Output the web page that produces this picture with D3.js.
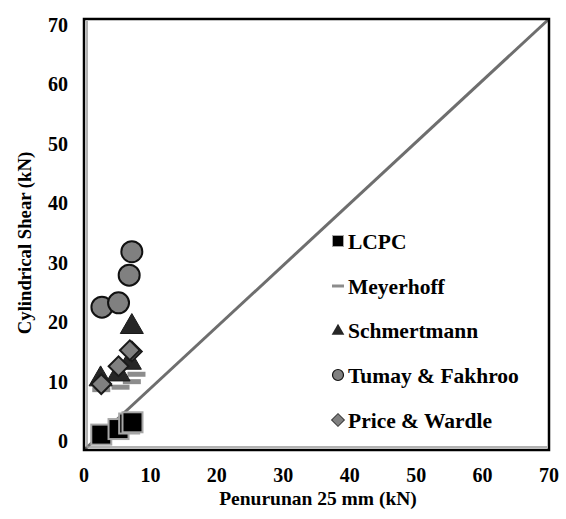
<!DOCTYPE html>
<html><head><meta charset="utf-8">
<script src="https://cdn.jsdelivr.net/npm/d3@7"></script>
<style>body{margin:0;background:#fff}svg{display:block}text{font-family:"Liberation Serif","Times New Roman",serif;font-weight:bold}</style>
</head><body><svg id="c" width="566" height="519"></svg>
<script>
const xTicks = [0,10,20,30,40,50,60,70];
const yTicks = [0,10,20,30,40,50,60,70];
const seriesNames = ["LCPC","Meyerhoff","Schmertmann","Tumay & Fakhroo","Price & Wardle"];
const lcpc = [[2.6,2.5],[5.2,3.4],[6.8,4.3],[7.3,4.5]];
const meyerhoff = [[2.6,9.8],[5.5,10.2],[7.2,11.1],[7.9,12.3]];
const schmertmann = [[2.5,11.5],[5.2,12.3],[6.9,14.2],[7.2,20.0]];
const tumay = [[2.7,23.2],[5.2,23.9],[6.8,28.4],[7.2,32.2]];
const price = [[2.6,10.7],[5.2,13.6],[7.2,16.0],[6.9,16.2]];
const diagonal = [[0,0],[70,70]];

const svg = d3.select("#c");
const x = d3.scaleLinear().domain([0,70]).range([84,549]);
const y = d3.scaleLinear().domain([0,70]).range([450,19]);
const yLab = d3.scaleLinear().domain([0,70]).range([441,25]);

// diagonal
svg.append("line").attr("x1",x(diagonal[0][0])).attr("y1",y(diagonal[0][1]))
  .attr("x2",x(diagonal[1][0])).attr("y2",y(diagonal[1][1]))
  .attr("stroke","#6e6e6e").attr("stroke-width",3);

// frame
svg.append("rect").attr("x",x(0)).attr("y",y(70)).attr("width",x(70)-x(0)).attr("height",y(0)-y(70))
  .attr("fill","none").attr("stroke","#000").attr("stroke-width",2.5);
svg.append("line").attr("x1",x(0)+3).attr("x2",x(0)+3).attr("y1",y(70)+2).attr("y2",y(0)-3).attr("stroke","#999").attr("stroke-width",1.5);
svg.append("line").attr("x1",x(0)+3).attr("x2",x(70)-2).attr("y1",y(0)-3).attr("y2",y(0)-3).attr("stroke","#999").attr("stroke-width",1.5);

// ticks
svg.append("g").selectAll("text").data(yTicks).join("text")
  .attr("x",68).attr("y",d=>yLab(d)).attr("dy","0.35em").attr("text-anchor","end")
  .attr("font-size",20).text(d=>d);
svg.append("g").selectAll("text").data(xTicks).join("text")
  .attr("x",d=>x(d)).attr("y",482).attr("text-anchor","middle")
  .attr("font-size",20).text(d=>d);

svg.append("text").attr("x",318).attr("y",505).attr("text-anchor","middle").attr("font-size",19.5).text("Penurunan 25 mm (kN)");
svg.append("text").attr("transform","translate(31,243) rotate(-90)").attr("text-anchor","middle").attr("font-size",18.7).text("Cylindrical Shear (kN)");

const g = svg.append("g");
// LCPC squares
g.selectAll(".sq").data(lcpc).join("rect").attr("x",d=>x(d[0])-10).attr("y",d=>y(d[1])-10)
  .attr("width",20).attr("height",20).attr("fill","#000").attr("stroke","#a6a6a6").attr("stroke-width",2);
// Meyerhoff dashes
g.selectAll(".dash").data(meyerhoff).join("line").attr("x1",d=>x(d[0])-9).attr("x2",d=>x(d[0])+9)
  .attr("y1",d=>y(d[1])).attr("y2",d=>y(d[1])).attr("stroke","#8c8c8c").attr("stroke-width",5);
// Schmertmann triangles
const tri = d3.symbol().type(d3.symbolTriangle).size(230);
g.selectAll(".tri").data(schmertmann).join("path").attr("d",tri)
  .attr("transform",d=>`translate(${x(d[0])},${y(d[1])})`).attr("fill","#262626").attr("stroke","#1a1a1a").attr("stroke-width",1);
// Tumay circles
g.selectAll(".circ").data(tumay).join("circle").attr("cx",d=>x(d[0])).attr("cy",d=>y(d[1])).attr("r",10.5)
  .attr("fill","#808080").attr("stroke","#111").attr("stroke-width",2);
// Price diamonds
g.selectAll(".dia").data(price).join("rect").attr("x",-7).attr("y",-7).attr("width",14).attr("height",14)
  .attr("transform",d=>`translate(${x(d[0])},${y(d[1])}) rotate(45)`)
  .attr("fill","#808080").attr("stroke","#1a1a1a").attr("stroke-width",2);

// legend
const lg = svg.append("g");
const ly = [241,286,330,375,420];
seriesNames.forEach((n,i)=>{
  const cx=338, cy=ly[i];
  if(i===0) lg.append("rect").attr("x",cx-5.5).attr("y",cy-5.5).attr("width",11).attr("height",11).attr("fill","#000").attr("stroke","#a6a6a6").attr("stroke-width",1);
  if(i===1) lg.append("line").attr("x1",cx-6).attr("x2",cx+6).attr("y1",cy).attr("y2",cy).attr("stroke","#8c8c8c").attr("stroke-width",3);
  if(i===2) lg.append("path").attr("d",d3.symbol().type(d3.symbolTriangle).size(70)).attr("transform",`translate(${cx},${cy+1})`).attr("fill","#262626");
  if(i===3) lg.append("circle").attr("cx",cx).attr("cy",cy).attr("r",5.5).attr("fill","#808080").attr("stroke","#111").attr("stroke-width",1.2);
  if(i===4) lg.append("rect").attr("x",-4.5).attr("y",-4.5).attr("width",9).attr("height",9).attr("transform",`translate(${cx},${cy}) rotate(45)`).attr("fill","#808080").attr("stroke","#333").attr("stroke-width",1);
  lg.append("text").attr("x",348).attr("y",cy).attr("dy","0.35em").attr("font-size",21.5).text(n);
});
</script></body></html>
